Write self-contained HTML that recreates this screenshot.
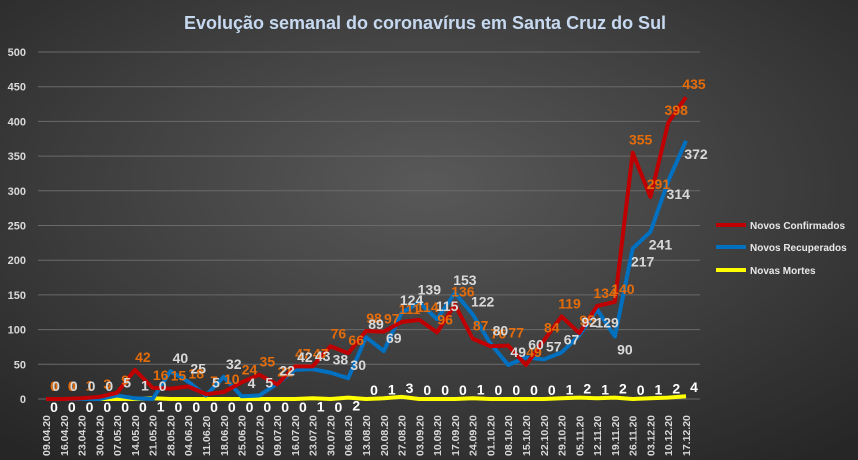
<!DOCTYPE html>
<html><head><meta charset="utf-8"><style>
html,body{margin:0;padding:0;width:858px;height:460px;overflow:hidden;background:#333}
svg{display:block;font-family:"Liberation Sans",sans-serif}
</style></head><body>
<svg width="858" height="460" viewBox="0 0 858 460">
<defs>
<radialGradient id="bg" cx="50%" cy="40%" r="75%">
<stop offset="0" stop-color="#595959"/><stop offset="1" stop-color="#262626"/>
</radialGradient>
</defs>
<rect width="858" height="460" fill="url(#bg)"/>
<text x="425" y="29" text-anchor="middle" font-size="18" font-weight="bold" fill="#c6d9f0">Evolução  semanal  do coronavírus  em Santa Cruz do Sul</text>
<g id="grid" stroke="#6a6a6a" stroke-width="1"></g>
<g id="ylab" fill="#d9d9d9" font-size="11" font-weight="bold" text-anchor="end"></g>
<g id="xlab" fill="#d9d9d9" font-size="10.5" font-weight="bold"></g>
<g id="lines" fill="none" stroke-linejoin="round"></g>
<g id="labs" font-size="14" font-weight="bold" text-anchor="middle"></g>
<g font-size="10" font-weight="bold" fill="#e8e8e8">
<line x1="716" y1="225" x2="746" y2="225" stroke="#c00000" stroke-width="4"/><text x="750" y="229">Novos Confirmados</text>
<line x1="716" y1="247" x2="746" y2="247" stroke="#0070c0" stroke-width="4"/><text x="750" y="251">Novos Recuperados</text>
<line x1="716" y1="270" x2="746" y2="270" stroke="#ffff00" stroke-width="4"/><text x="750" y="274">Novas Mortes</text>
</g>
</svg>
<script>
const ns="http://www.w3.org/2000/svg";
function el(p,t,a,txt){const e=document.createElementNS(ns,t);for(const k in a)e.setAttribute(k,a[k]);if(txt!==undefined)e.textContent=txt;document.getElementById(p).appendChild(e);return e;}
const y0=399,sc=347/500,x0=46,dx=640/36;
const Y=v=>y0-v*sc, X=i=>x0+i*dx;
for(let v=0;v<=500;v+=50){el('grid','line',{x1:38,x2:700,y1:Y(v),y2:Y(v)});el('ylab','text',{x:26,y:Y(v)+4},v);}
const dates=["09.04","16.04","23.04","30.04","07.05","14.05","21.05","28.05","04.06","11.06","18.06","25.06","02.07","09.07","16.07","23.07","30.07","06.08","13.08","20.08","27.08","03.09","10.09","17.09","24.09","01.10","08.10","15.10","22.10","29.10","05.11","12.11","19.11","26.11","03.12","10.12","17.12"];
dates.forEach((d,i)=>{const x=X(i)+4,y=456;el('xlab','text',{x:x,y:y,transform:`rotate(-90 ${x} ${y})`},d+".20");});
const conf=[0,0,1,3,9,42,16,15,18,7,10,24,35,21,47,47,76,66,98,97,111,114,96,136,87,76,77,49,84,119,95,134,140,355,291,398,435];
const rec=[0,0,0,0,5,1,0,40,25,5,32,4,5,22,42,43,38,30,89,69,124,139,115,153,122,80,49,60,57,67,92,129,90,217,241,314,372];
const dead=[0,0,0,0,0,0,1,0,0,0,0,0,0,0,0,1,0,2,0,1,3,0,0,0,1,0,0,0,0,1,2,1,2,0,1,2,4];
function line(arr,c){el('lines','polyline',{points:arr.map((v,i)=>X(i)+','+Y(v)).join(' '),stroke:c,'stroke-width':4});}
line(dead,'#ffff00');line(rec,'#0070c0');line(conf,'#c00000');
conf.forEach((v,i)=>el('labs','text',{x:X(i)+8,y:Y(v)-8,fill:'#e46c0a'},v));
rec.forEach((v,i)=>el('labs','text',{x:X(i)+10,y:Y(v)+(i>30?18:-8),fill:'#d9d9d9'},v));
dead.forEach((v,i)=>el('labs','text',{x:X(i)+8,y:i>=18?Y(v)-4:Y(v)+13,fill:'#ffffff'},v));
</script>
</body></html>
